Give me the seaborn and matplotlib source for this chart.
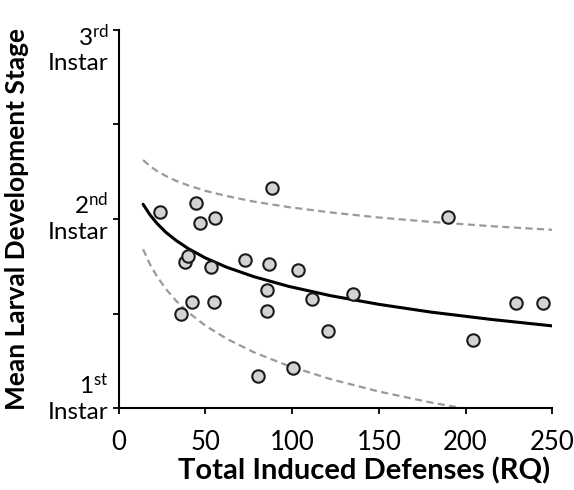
import matplotlib
matplotlib.use("Agg")
import matplotlib.pyplot as plt
from matplotlib.transforms import ScaledTranslation
import seaborn as sns
import pandas as pd

# Observed points (Total induced defenses RQ, mean larval stage)
defenses = [23.7, 35.8, 38.1, 40.0, 42.0, 44.5, 46.8, 52.9, 54.8, 55.4, 72.7, 80.4,
            85.3, 85.3, 86.8, 88.2, 100.6, 103.5, 111.3, 120.8, 134.9, 190.1, 204.6,
            229.2, 244.6]
stage = [2.035, 1.496, 1.774, 1.804, 1.559, 2.083, 1.980, 1.748, 1.559, 2.004, 1.783,
         1.169, 1.624, 1.513, 1.762, 2.166, 1.215, 1.730, 1.577, 1.409, 1.602, 2.009,
         1.363, 1.557, 1.557]

# Fitted curve and dashed bands
curve_x = [14, 18, 22, 27, 33, 40, 50, 62, 78, 98, 122, 150, 180, 215, 250]
fit_y = [2.078, 2.022, 1.977, 1.931, 1.887, 1.844, 1.794, 1.746, 1.695, 1.644, 1.595,
         1.549, 1.508, 1.469, 1.435]
upper_y = [2.312, 2.280, 2.254, 2.228, 2.202, 2.178, 2.149, 2.122, 2.092, 2.063, 2.035,
           2.008, 1.985, 1.962, 1.943]
lower_x = [14, 18, 22, 27, 33, 40, 50, 62, 78, 98, 122, 150, 180, 200]
lower_y = [1.840, 1.760, 1.697, 1.632, 1.568, 1.507, 1.436, 1.368, 1.295, 1.223, 1.154,
           1.088, 1.030, 0.997]

y_ticks = [1, 2, 3]
y_tick_labels = ["1$^{\\mathrm{st}}$\nInstar", "2$^{\\mathrm{nd}}$\nInstar", "3$^{\\mathrm{rd}}$\nInstar"]
x_ticks = [0, 50, 100, 150, 200, 250]

sns.set_theme(style="white")
plt.rcParams["font.family"] = ["Lato", "DejaVu Sans"]
plt.rcParams["mathtext.fontset"] = "custom"
plt.rcParams["mathtext.rm"] = "Lato"
plt.rcParams["mathtext.it"] = "Lato:italic"
plt.rcParams["mathtext.bf"] = "Lato:bold"

fig = plt.figure(figsize=(5.74, 4.90), dpi=100)
ax = fig.add_axes([0.207, 0.167, 0.755, 0.772])

pts = pd.DataFrame({"x": defenses, "y": stage})
fit = pd.DataFrame({"x": curve_x, "y": fit_y})
up = pd.DataFrame({"x": curve_x, "y": upper_y})
lo = pd.DataFrame({"x": lower_x, "y": lower_y})

dash = (0, (3.2, 2.0))
sns.lineplot(data=up, x="x", y="y", ax=ax, color="#9a9a9a", lw=1.6,
             linestyle=dash, estimator=None, sort=False)
sns.lineplot(data=lo, x="x", y="y", ax=ax, color="#9a9a9a", lw=1.6,
             linestyle=dash, estimator=None, sort=False)
sns.lineplot(data=fit, x="x", y="y", ax=ax, color="black", lw=2.2,
             estimator=None, sort=False)
sns.scatterplot(data=pts, x="x", y="y", ax=ax, s=80, color="#d3d3d3",
                edgecolor="#1a1a1a", linewidth=1.5, zorder=5, clip_on=False)

ax.set_xlim(0, 250)
ax.set_ylim(1, 3)
ax.set_xticks(x_ticks)
ax.set_yticks(y_ticks)
ax.set_yticklabels(y_tick_labels, multialignment="right")
ax.set_yticks([1.5, 2.5], minor=True)

for side in ["top", "right"]:
    ax.spines[side].set_visible(False)
for side in ["left", "bottom"]:
    ax.spines[side].set_color("black")
    ax.spines[side].set_linewidth(1.5)

ax.tick_params(axis="both", which="both", direction="out", length=4.5, width=1.3,
               color="black", left=True, bottom=True)
ax.tick_params(axis="x", labelsize=18.5, pad=11, colors="black")
ax.tick_params(axis="y", labelsize=17.5, pad=3, colors="black")

offsets = [10, 4, -11]
for lbl, dy in zip(ax.get_yticklabels(), offsets):
    lbl.set_transform(lbl.get_transform() + ScaledTranslation(0, dy / 72, fig.dpi_scale_trans))

ax.set_xlabel("Total Induced Defenses (RQ)", fontsize=21, fontweight="bold", color="black")
ax.set_ylabel("Mean Larval Development Stage", fontsize=19, fontweight="bold", color="black")
ax.xaxis.set_label_coords(0.565, -0.13)
ax.yaxis.set_label_coords(-0.208, 0.5)

fig.savefig("out.png", dpi=100)
